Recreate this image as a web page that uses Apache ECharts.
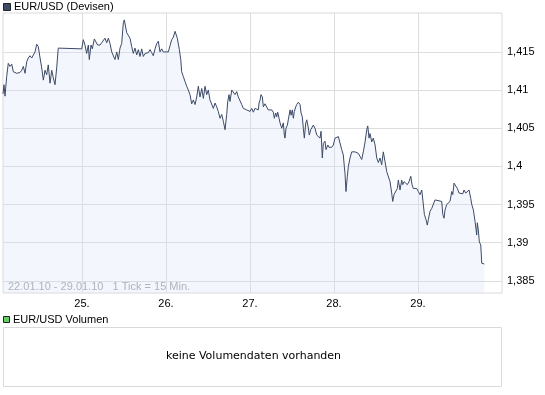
<!DOCTYPE html>
<html>
<head>
<meta charset="utf-8">
<script src="https://cdn.jsdelivr.net/npm/echarts@6/dist/echarts.min.js"></script>
<style>
html,body{margin:0;padding:0;background:#fff;}
#c{width:545px;height:395px;}
</style>
</head>
<body>
<div id="c"></div>
<script>
// x position in trading days (weekend compressed), y = EUR/USD rate
var times = [24.060,24.072,24.084,24.104,24.123,24.143,24.164,24.183,24.203,24.223,24.242,24.262,24.283,24.302,24.322,24.342,24.361,24.381,24.402,24.421,
24.441,24.461,24.480,24.501,24.521,24.540,24.560,24.580,24.599,24.620,24.640,24.659,24.679,24.699,24.718,24.730,24.997,25.016,25.036,25.056,
25.076,25.087,25.108,25.123,25.147,25.164,25.187,25.215,25.235,25.254,25.274,25.295,25.314,25.334,25.354,25.373,25.393,25.414,25.433,25.453,
25.473,25.492,25.504,25.521,25.533,25.552,25.572,25.592,25.611,25.631,25.652,25.671,25.691,25.711,25.730,25.751,25.771,25.790,25.810,25.830,
25.849,25.870,25.890,25.909,25.929,25.949,25.968,26.028,26.048,26.068,26.087,26.108,26.120,26.135,26.159,26.176,26.187,26.206,26.227,26.247,
26.266,26.286,26.306,26.326,26.346,26.366,26.385,26.405,26.426,26.445,26.465,26.485,26.504,26.524,26.545,26.564,26.584,26.604,26.623,26.643,
26.664,26.683,26.703,26.723,26.735,26.751,26.762,26.783,26.802,26.822,26.842,26.861,26.881,26.902,26.921,26.941,26.961,26.980,27.001,27.021,
27.040,27.060,27.080,27.099,27.108,27.120,27.131,27.147,27.159,27.179,27.199,27.218,27.239,27.259,27.278,27.290,27.306,27.318,27.330,27.346,
27.358,27.378,27.397,27.409,27.417,27.429,27.445,27.456,27.477,27.489,27.504,27.516,27.528,27.545,27.556,27.576,27.596,27.608,27.623,27.635,
27.647,27.664,27.676,27.695,27.706,27.723,27.742,27.754,27.774,27.795,27.814,27.834,27.846,27.861,27.873,27.893,27.905,27.926,27.941,27.973,
27.992,28.012,28.033,28.052,28.072,28.092,28.111,28.123,28.131,28.143,28.159,28.171,28.191,28.211,28.251,28.290,28.310,28.330,28.349,28.370,
28.390,28.402,28.417,28.429,28.449,28.468,28.489,28.509,28.528,28.548,28.568,28.587,28.608,28.628,28.647,28.667,28.687,28.699,28.715,28.735,
28.754,28.766,28.786,28.806,28.818,28.834,28.854,28.873,28.893,28.914,28.929,28.945,28.965,28.985,29.004,29.024,29.045,29.064,29.076,29.096,
29.111,29.123,29.143,29.164,29.183,29.203,29.223,29.283,29.295,29.310,29.322,29.342,29.361,29.381,29.402,29.414,29.429,29.449,29.468,29.489,
29.509,29.533,29.548,29.568,29.587,29.608,29.628,29.640,29.659,29.679,29.699,29.706,29.718,29.730,29.747,29.759,29.778,29.790];
var rates = [1.4095,1.4107,1.4092,1.4118,1.4135,1.4131,1.4134,1.4124,1.4125,1.4122,1.4124,1.4123,1.4126,1.4131,1.4122,1.4137,1.4142,1.4145,1.4142,1.4144,
1.4150,1.4160,1.4157,1.4142,1.4129,1.4113,1.4126,1.4120,1.4133,1.4109,1.4126,1.4116,1.4107,1.4129,1.4155,1.4154,1.4154,1.4166,1.4159,1.4148,
1.4159,1.4140,1.4159,1.4154,1.4167,1.4169,1.4159,1.4159,1.4162,1.4164,1.4168,1.4162,1.4168,1.4161,1.4150,1.4148,1.4140,1.4150,1.4140,1.4155,
1.4161,1.4188,1.4192,1.4190,1.4175,1.4177,1.4168,1.4157,1.4148,1.4155,1.4146,1.4153,1.4144,1.4154,1.4144,1.4148,1.4150,1.4149,1.4153,1.4149,
1.4145,1.4154,1.4161,1.4164,1.4150,1.4154,1.4150,1.4150,1.4158,1.4166,1.4169,1.4177,1.4179,1.4168,1.4153,1.4140,1.4124,1.4118,1.4111,1.4105,
1.4100,1.4094,1.4082,1.4087,1.4081,1.4091,1.4105,1.4091,1.4102,1.4089,1.4105,1.4094,1.4100,1.4087,1.4085,1.4076,1.4083,1.4078,1.4072,1.4063,
1.4068,1.4059,1.4048,1.4068,1.4085,1.4094,1.4085,1.4100,1.4102,1.4094,1.4098,1.4091,1.4089,1.4081,1.4076,1.4078,1.4074,1.4075,1.4072,1.4076,
1.4071,1.4076,1.4078,1.4074,1.4083,1.4087,1.4094,1.4091,1.4078,1.4082,1.4081,1.4074,1.4073,1.4074,1.4071,1.4063,1.4070,1.4065,1.4071,1.4063,
1.4057,1.4050,1.4057,1.4041,1.4037,1.4050,1.4054,1.4061,1.4074,1.4067,1.4074,1.4063,1.4072,1.4078,1.4081,1.4084,1.4081,1.4070,1.4065,1.4050,
1.4037,1.4057,1.4061,1.4050,1.4041,1.4048,1.4046,1.4054,1.4050,1.4041,1.4043,1.4037,1.4046,1.4011,1.4030,1.4033,1.4022,1.4028,1.4025,1.4025,
1.4028,1.4037,1.4035,1.4039,1.4037,1.4022,1.4015,1.4000,1.3991,1.3967,1.3987,1.4000,1.4011,1.4019,1.4019,1.4017,1.4015,1.4009,1.4019,1.4032,
1.4048,1.4053,1.4037,1.4043,1.4032,1.4037,1.4028,1.4011,1.4005,1.4011,1.4002,1.4019,1.4006,1.3993,1.3991,1.3980,1.3965,1.3954,1.3963,1.3965,
1.3971,1.3982,1.3969,1.3982,1.3976,1.3980,1.3978,1.3976,1.3980,1.3987,1.3976,1.3971,1.3969,1.3971,1.3967,1.3963,1.3969,1.3969,1.3937,1.3930,
1.3923,1.3930,1.3941,1.3945,1.3943,1.3956,1.3954,1.3954,1.3937,1.3932,1.3943,1.3950,1.3952,1.3954,1.3967,1.3963,1.3978,1.3976,1.3971,1.3965,
1.3963,1.3964,1.3969,1.3965,1.3963,1.3969,1.3958,1.3950,1.3943,1.3928,1.3910,1.3926,1.3917,1.3901,1.3897,1.3873,1.3871,1.3872];
var dayTicks = [25, 26, 27, 28, 29];
var rateTicks = [1.385, 1.39, 1.395, 1.4, 1.405, 1.41, 1.415];
var seriesName = 'EUR/USD (Devisen)';
var volumeName = 'EUR/USD Volumen';
var noVolumeText = 'keine Volumendaten vorhanden';
var rangeText = '22.01.10 - 29.01.10   1 Tick = 15 Min.';

var data = times.map(function (t, i) { return [t, rates[i]]; });
var FONT = '"Liberation Sans", Arial, sans-serif';

var chart = echarts.init(document.getElementById('c'), null, {renderer: 'canvas'});
chart.setOption({
  animation: false,
  backgroundColor: '#ffffff',
  grid: {left: 3, right: 43, top: 13, bottom: 102, show: true, borderColor: '#dadada', borderWidth: 1, backgroundColor: 'transparent'},
  xAxis: {
    type: 'value', min: 24.06, max: 30,
    axisLine: {show: false},
    axisTick: {show: false, customValues: dayTicks},
    splitLine: {show: true, lineStyle: {color: '#dddddd', width: 1}},
    axisLabel: {customValues: dayTicks, color: '#000', fontFamily: FONT, fontSize: 11, margin: 5,
      formatter: function (v) { return Math.round(v) + '.'; }}
  },
  yAxis: {
    type: 'value', position: 'right', min: 1.3834, max: 1.4201,
    axisLine: {show: false},
    axisTick: {show: false, customValues: rateTicks},
    splitLine: {show: true, lineStyle: {color: '#dddddd', width: 1}},
    axisLabel: {customValues: rateTicks, color: '#000', fontFamily: FONT, fontSize: 11, margin: 5,
      formatter: function (v) { return String(Math.round(v * 1000) / 1000).replace('.', ','); }}
  },
  series: [{
    type: 'line', name: seriesName, data: data, showSymbol: false, symbol: 'none',
    lineStyle: {color: '#3d4a68', width: 1},
    areaStyle: {color: 'rgba(213,224,245,0.4)', origin: 'start'}
  }],
  graphic: [
    {type: 'rect', shape: {x: 3.5, y: 3.5, width: 7, height: 7}, style: {fill: '#3d4a68', stroke: '#222', lineWidth: 1}},
    {type: 'text', x: 14, y: 7, style: {text: seriesName, fill: '#000', font: '11px ' + FONT, verticalAlign: 'middle'}},
    {type: 'text', x: 8, y: 287, style: {text: rangeText, fill: '#a3a3a3', font: '11px ' + FONT, verticalAlign: 'middle'}},
    {type: 'rect', shape: {x: 3.5, y: 316.5, width: 6, height: 6}, style: {fill: '#66cc66', stroke: '#222', lineWidth: 1}},
    {type: 'text', x: 13, y: 320, style: {text: volumeName, fill: '#000', font: '11px ' + FONT, verticalAlign: 'middle'}},
    {type: 'rect', shape: {x: 3.5, y: 327.5, width: 498, height: 59}, style: {fill: '#fff', stroke: '#dadada', lineWidth: 1}},
    {type: 'text', x: 253.5, y: 356, style: {text: noVolumeText, fill: '#000', font: '11px "DejaVu Sans", Verdana, sans-serif', align: 'center', verticalAlign: 'middle'}}
  ]
});
</script>
</body>
</html>
